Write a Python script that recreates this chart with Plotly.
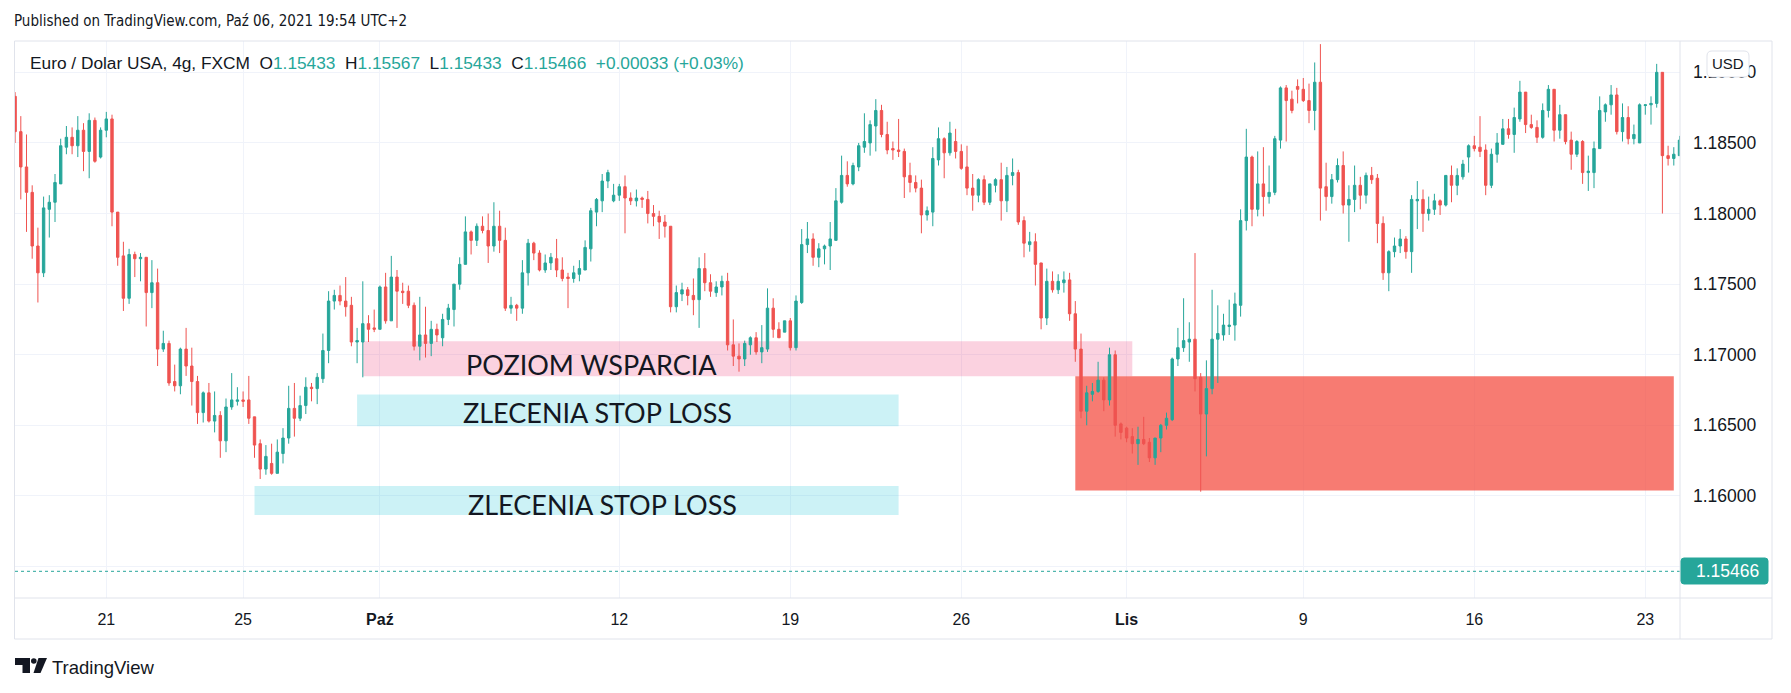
import plotly.graph_objects as go

# ---------------- data (EUR/USD, 4h candles) ----------------
first_bar = -1
opens = [
    1.1883, 1.1858, 1.1833, 1.1815, 1.1777, 1.1758, 1.1803, 1.1808, 1.1821, 1.1847,
    1.1854, 1.1848, 1.1859, 1.1844, 1.1866, 1.1840, 1.1859, 1.1867, 1.1801, 1.1770,
    1.1740, 1.1771, 1.1768, 1.1769, 1.1744, 1.1751, 1.1704, 1.1708, 1.1681, 1.1678,
    1.1704, 1.1692, 1.1681, 1.1659, 1.1673, 1.1653, 1.1657, 1.1639, 1.1663, 1.1667,
    1.1668, 1.1668, 1.1656, 1.1637, 1.1619, 1.1623, 1.1616, 1.1630, 1.1641, 1.1662,
    1.1655, 1.1664, 1.1677, 1.1676, 1.1683, 1.1703, 1.1738, 1.1742, 1.1738, 1.1735,
    1.1709, 1.1709, 1.1722, 1.1719, 1.1718, 1.1748, 1.1724, 1.1755, 1.1745, 1.1745,
    1.1735, 1.1706, 1.1714, 1.1708, 1.1718, 1.1712, 1.1725, 1.1732, 1.1750, 1.1764,
    1.1787, 1.1781, 1.1791, 1.1788, 1.1777, 1.1791, 1.1781, 1.1733, 1.1735, 1.1733,
    1.1758, 1.1779, 1.1772, 1.1760, 1.1765, 1.1768, 1.1760, 1.1755, 1.1754, 1.1757,
    1.1760, 1.1775, 1.1801, 1.1809, 1.1823, 1.1809, 1.1813, 1.1819, 1.1811, 1.1809,
    1.1811, 1.1810, 1.1800, 1.1798, 1.1794, 1.1791, 1.1734, 1.1743, 1.1746, 1.1742,
    1.1739, 1.1761, 1.1751, 1.1744, 1.1748, 1.1752, 1.1707, 1.1699, 1.1697, 1.1707,
    1.1712, 1.1702, 1.1704, 1.1733, 1.1718, 1.1716, 1.1724, 1.1705, 1.1737, 1.1778,
    1.1782, 1.1769, 1.1775, 1.1777, 1.1781, 1.1808, 1.1827, 1.1821, 1.1833, 1.1847,
    1.1850, 1.1862, 1.1873, 1.1856, 1.1846, 1.1845, 1.1844, 1.1827, 1.1822, 1.1818,
    1.1799, 1.1801, 1.1838, 1.1853, 1.1843, 1.1851, 1.1844, 1.1833, 1.1818, 1.1813,
    1.1824, 1.1808, 1.1820, 1.1824, 1.1809, 1.1827, 1.1829, 1.1795, 1.1778, 1.1780,
    1.1765, 1.1726, 1.1752, 1.1746, 1.1751, 1.1753, 1.1729, 1.1704, 1.1660, 1.1672,
    1.1674, 1.1682, 1.1668, 1.1700, 1.1651, 1.1648, 1.1642, 1.1637, 1.1640, 1.1638,
    1.1627, 1.1641, 1.1650, 1.1654, 1.1697, 1.1705, 1.1709, 1.1711, 1.1684, 1.1658,
    1.1676, 1.1711, 1.1714, 1.1720, 1.1721, 1.1735, 1.1795, 1.1840, 1.1803, 1.1821,
    1.1812, 1.1815, 1.1852, 1.1889, 1.1881, 1.1890, 1.1888, 1.1880, 1.1873, 1.1893,
    1.1819, 1.1812, 1.1824, 1.1834, 1.1806, 1.1810, 1.1820, 1.1813, 1.1827, 1.1825,
    1.1793, 1.1758, 1.1773, 1.1777, 1.1782, 1.1773, 1.1809, 1.1810, 1.1800, 1.1803,
    1.1809, 1.1806, 1.1827, 1.1820, 1.1826, 1.1840, 1.1848, 1.1847, 1.1845, 1.1820,
    1.1842, 1.1849, 1.1860, 1.1856, 1.1867, 1.1886, 1.1863, 1.1861, 1.1854, 1.1873,
    1.1888, 1.1859, 1.1870, 1.1852, 1.1842, 1.1851, 1.1829, 1.1829, 1.1846, 1.1872,
    1.1877, 1.1884, 1.1858, 1.1868, 1.1853, 1.1850, 1.18765, 1.1877, 1.1878, 1.1900,
    1.1841, 1.1839, 1.1841,
]
highs = [
    1.1886, 1.1869, 1.1856, 1.1820, 1.1790, 1.1812, 1.1813, 1.1828, 1.1853, 1.1862,
    1.1861, 1.1869, 1.1864, 1.1871, 1.1868, 1.1861, 1.1872, 1.1870, 1.1801, 1.1780,
    1.1775, 1.1773, 1.1772, 1.1769, 1.1767, 1.1761, 1.1717, 1.1710, 1.1693, 1.1705,
    1.1719, 1.1705, 1.1685, 1.1674, 1.1680, 1.1674, 1.1660, 1.1669, 1.1687, 1.1677,
    1.1674, 1.1685, 1.1656, 1.1640, 1.1636, 1.1637, 1.1640, 1.1648, 1.1678, 1.1680,
    1.1671, 1.1684, 1.1680, 1.1687, 1.1715, 1.1745, 1.1746, 1.1749, 1.1755, 1.1741,
    1.1719, 1.1752, 1.1728, 1.1732, 1.1749, 1.1758, 1.1770, 1.1760, 1.1751, 1.1749,
    1.1737, 1.1741, 1.1734, 1.1724, 1.1722, 1.1729, 1.1736, 1.1750, 1.1769, 1.1798,
    1.1788, 1.1793, 1.1798, 1.1800, 1.1808, 1.1802, 1.1790, 1.1741, 1.1736, 1.1767,
    1.1782, 1.1780, 1.1774, 1.1771, 1.1772, 1.1782, 1.1769, 1.1758, 1.1763, 1.1767,
    1.1781, 1.1804, 1.1811, 1.1828, 1.1831, 1.1821, 1.1821, 1.1827, 1.1815, 1.1817,
    1.1812, 1.1816, 1.1806, 1.1802, 1.1799, 1.1791, 1.1749, 1.1751, 1.1748, 1.1754,
    1.1769, 1.1772, 1.1757, 1.1752, 1.1756, 1.1758, 1.1725, 1.1708, 1.1710, 1.1713,
    1.1716, 1.1721, 1.1747, 1.1740, 1.1723, 1.1724, 1.1726, 1.1742, 1.1789, 1.1794,
    1.1786, 1.1779, 1.1778, 1.1794, 1.1818, 1.1841, 1.1837, 1.1836, 1.1850, 1.1871,
    1.1866, 1.1881, 1.1877, 1.1865, 1.1851, 1.1867, 1.1846, 1.1836, 1.1827, 1.1824,
    1.1805, 1.1847, 1.1861, 1.1854, 1.1865, 1.1860, 1.1849, 1.1848, 1.1828, 1.1825,
    1.1827, 1.1821, 1.1825, 1.1836, 1.1833, 1.1839, 1.1831, 1.1798, 1.1787, 1.1786,
    1.1765, 1.1761, 1.1759, 1.1757, 1.1759, 1.1758, 1.1738, 1.1715, 1.1678, 1.1680,
    1.1695, 1.1684, 1.1705, 1.1703, 1.1652, 1.1649, 1.1648, 1.1649, 1.1656, 1.1641,
    1.1641, 1.1651, 1.1659, 1.1698, 1.1719, 1.1740, 1.1723, 1.1772, 1.1687, 1.1696,
    1.1746, 1.1735, 1.1729, 1.1739, 1.1744, 1.1803, 1.1860, 1.1841, 1.1844, 1.1847,
    1.1834, 1.1855, 1.1890, 1.1891, 1.1887, 1.1895, 1.1896, 1.1892, 1.1907, 1.1920,
    1.1836, 1.1828, 1.1839, 1.1844, 1.1820, 1.1834, 1.1826, 1.1829, 1.1833, 1.1828,
    1.1798, 1.1774, 1.1783, 1.1789, 1.1784, 1.1813, 1.1823, 1.1817, 1.1812, 1.1814,
    1.1810, 1.1827, 1.1834, 1.1832, 1.1838, 1.1849, 1.1855, 1.1869, 1.1849, 1.1846,
    1.1857, 1.1867, 1.1867, 1.1875, 1.1894, 1.1886, 1.1870, 1.1866, 1.1878, 1.1891,
    1.1888, 1.1877, 1.1870, 1.1858, 1.1852, 1.1852, 1.1841, 1.1851, 1.1883, 1.1878,
    1.1891, 1.1889, 1.1878, 1.1876, 1.1863, 1.1878, 1.1877, 1.1883, 1.1906, 1.1900,
    1.1848, 1.1847, 1.1855,
]
lows = [
    1.1850, 1.1810, 1.1787, 1.1768, 1.1737, 1.1755, 1.1783, 1.1794, 1.1821, 1.1842,
    1.1842, 1.1840, 1.1830, 1.1825, 1.1836, 1.1839, 1.1854, 1.1791, 1.1763, 1.1731,
    1.1736, 1.1755, 1.1752, 1.1720, 1.1733, 1.1692, 1.1702, 1.1678, 1.1674, 1.1672,
    1.1685, 1.1664, 1.1651, 1.1652, 1.1652, 1.1645, 1.1627, 1.1631, 1.1661, 1.1664,
    1.1663, 1.1651, 1.1627, 1.1612, 1.1615, 1.1615, 1.1616, 1.1623, 1.1637, 1.1642,
    1.1653, 1.1658, 1.1667, 1.1665, 1.1680, 1.1694, 1.1732, 1.1735, 1.1727, 1.1706,
    1.1694, 1.1684, 1.1709, 1.1716, 1.1718, 1.1722, 1.1724, 1.1719, 1.1736, 1.1733,
    1.1703, 1.1696, 1.1698, 1.1699, 1.1709, 1.1706, 1.1721, 1.1720, 1.1746, 1.1764,
    1.1771, 1.1777, 1.1786, 1.1765, 1.1773, 1.1772, 1.1731, 1.1729, 1.1724, 1.1729,
    1.1749, 1.1767, 1.1759, 1.1758, 1.1760, 1.1755, 1.1752, 1.1733, 1.1751, 1.1752,
    1.1760, 1.1766, 1.1791, 1.1801, 1.1818, 1.1808, 1.1809, 1.1786, 1.1806, 1.1805,
    1.1804, 1.1793, 1.1791, 1.1782, 1.1783, 1.1730, 1.1730, 1.1738, 1.1735, 1.1728,
    1.1719, 1.1745, 1.1741, 1.1741, 1.1742, 1.1703, 1.1692, 1.1688, 1.1692, 1.1700,
    1.1700, 1.1694, 1.1702, 1.1712, 1.1712, 1.1716, 1.1703, 1.1703, 1.1736, 1.1772,
    1.1763, 1.1762, 1.1764, 1.1760, 1.1781, 1.1807, 1.1819, 1.1820, 1.1830, 1.1843,
    1.1841, 1.1844, 1.1854, 1.1842, 1.1838, 1.1840, 1.1811, 1.1815, 1.1815, 1.1786,
    1.1795, 1.1791, 1.1834, 1.1825, 1.1841, 1.1839, 1.1831, 1.1813, 1.1802, 1.1808,
    1.1806, 1.1806, 1.1815, 1.1795, 1.1801, 1.1820, 1.1792, 1.1769, 1.1773, 1.1749,
    1.1718, 1.1721, 1.1744, 1.1743, 1.1744, 1.1724, 1.1695, 1.1655, 1.1650, 1.1667,
    1.1673, 1.1660, 1.1664, 1.1642, 1.1640, 1.1638, 1.1630, 1.1622, 1.1636, 1.1624,
    1.1622, 1.1631, 1.1647, 1.1653, 1.1692, 1.1702, 1.1695, 1.1674, 1.1603, 1.1628,
    1.1672, 1.1680, 1.1710, 1.1714, 1.1710, 1.1727, 1.1788, 1.1791, 1.1798, 1.1798,
    1.1807, 1.1813, 1.1846, 1.1851, 1.1871, 1.1878, 1.1879, 1.1864, 1.1859, 1.1795,
    1.1802, 1.1807, 1.1822, 1.1800, 1.1780, 1.1801, 1.1803, 1.1807, 1.1821, 1.1779,
    1.1753, 1.1745, 1.1769, 1.1772, 1.1768, 1.1758, 1.1789, 1.1787, 1.1795, 1.1799,
    1.1799, 1.1805, 1.1808, 1.1813, 1.1824, 1.1829, 1.1844, 1.1840, 1.1813, 1.1818,
    1.1836, 1.1849, 1.1853, 1.1843, 1.1865, 1.1857, 1.1860, 1.1850, 1.1853, 1.1868,
    1.1851, 1.1853, 1.1849, 1.1831, 1.1840, 1.1821, 1.1816, 1.1818, 1.1846, 1.1865,
    1.1870, 1.1856, 1.1851, 1.1849, 1.1849, 1.1850, 1.1870, 1.1863, 1.1875, 1.1800,
    1.1834, 1.1834, 1.1841,
]
closes = [
    1.1858, 1.1833, 1.1815, 1.1777, 1.1758, 1.1804, 1.1808, 1.1822, 1.1848, 1.1854,
    1.1848, 1.1859, 1.1844, 1.1866, 1.1837, 1.1859, 1.1867, 1.1801, 1.1769, 1.1740,
    1.1771, 1.1768, 1.1769, 1.1744, 1.1751, 1.1704, 1.1708, 1.1680, 1.1678, 1.1704,
    1.1692, 1.1681, 1.1659, 1.1673, 1.1653, 1.1657, 1.1639, 1.1663, 1.1668, 1.1668,
    1.1667, 1.1655, 1.1636, 1.1619, 1.1628, 1.1616, 1.1631, 1.1641, 1.1662, 1.1655,
    1.1664, 1.1677, 1.1676, 1.1684, 1.1703, 1.1738, 1.1742, 1.1738, 1.1734, 1.1709,
    1.1710, 1.1722, 1.1718, 1.1718, 1.1748, 1.1724, 1.1755, 1.1745, 1.1744, 1.1735,
    1.1706, 1.1714, 1.1708, 1.1718, 1.1714, 1.1725, 1.1733, 1.1750, 1.1764, 1.1787,
    1.1781, 1.1791, 1.1788, 1.1777, 1.1791, 1.1781, 1.1733, 1.1735, 1.1733, 1.1758,
    1.1779, 1.1772, 1.1760, 1.1765, 1.1769, 1.1760, 1.1754, 1.1754, 1.1758, 1.1761,
    1.1776, 1.1802, 1.1810, 1.1823, 1.1829, 1.1813, 1.1819, 1.1811, 1.1809, 1.1811,
    1.1810, 1.1800, 1.1798, 1.1794, 1.1791, 1.1734, 1.1744, 1.1746, 1.1742, 1.1739,
    1.1761, 1.1751, 1.1745, 1.1748, 1.1752, 1.1707, 1.1699, 1.1697, 1.1708, 1.1712,
    1.1702, 1.1705, 1.1733, 1.1718, 1.1712, 1.1724, 1.1705, 1.1738, 1.1778, 1.1782,
    1.1769, 1.1775, 1.1777, 1.1782, 1.1809, 1.1827, 1.1821, 1.1834, 1.1848, 1.1851,
    1.1863, 1.1873, 1.1856, 1.1845, 1.1845, 1.1844, 1.1826, 1.1822, 1.1818, 1.1799,
    1.1802, 1.1839, 1.1853, 1.1843, 1.1857, 1.1844, 1.1832, 1.1818, 1.1813, 1.1824,
    1.1808, 1.1821, 1.1824, 1.1809, 1.1827, 1.1829, 1.1794, 1.1779, 1.1780, 1.1764,
    1.1726, 1.1752, 1.1746, 1.1752, 1.1753, 1.1729, 1.1704, 1.1660, 1.1673, 1.1674,
    1.1682, 1.1668, 1.1700, 1.1650, 1.1645, 1.1641, 1.1637, 1.1640, 1.1637, 1.1627,
    1.1641, 1.1650, 1.1655, 1.1697, 1.1705, 1.1710, 1.1711, 1.1683, 1.1658, 1.1676,
    1.1711, 1.1715, 1.1721, 1.1721, 1.1736, 1.1795, 1.1840, 1.1803, 1.1821, 1.1812,
    1.1815, 1.1853, 1.1889, 1.1880, 1.1873, 1.1888, 1.1880, 1.1873, 1.1893, 1.1818,
    1.1812, 1.1824, 1.1834, 1.1806, 1.1810, 1.1820, 1.1813, 1.1827, 1.1824, 1.1793,
    1.1758, 1.1773, 1.1777, 1.1782, 1.1773, 1.1810, 1.1810, 1.1800, 1.1803, 1.1809,
    1.1806, 1.1827, 1.1820, 1.1827, 1.1835, 1.1848, 1.1846, 1.1844, 1.1820, 1.1842,
    1.1850, 1.1860, 1.1856, 1.1868, 1.1886, 1.1863, 1.1861, 1.1854, 1.1873, 1.1888,
    1.1859, 1.1870, 1.1851, 1.1842, 1.1851, 1.1829, 1.1830, 1.1846, 1.1873, 1.1877,
    1.1884, 1.1858, 1.1868, 1.1853, 1.1856, 1.1877, 1.1877, 1.1878, 1.1900, 1.1841,
    1.1839, 1.1842, 1.1852,
]
bars = list(range(first_bar, first_bar + len(opens)))

tick_bars = [15, 39, 63, 105, 135, 165, 194, 225, 255, 285]
tick_labels = ["21", "25", "<b>Paź</b>", "12", "19", "26", "<b>Lis</b>", "9", "16", "23"]
price_levels = [1.155, 1.160, 1.165, 1.170, 1.175, 1.180, 1.185, 1.190]
last_price = 1.15466

zone_texts = ["POZIOM WSPARCIA", "ZLECENIA STOP LOSS", "ZLECENIA STOP LOSS", ""]
zone_from = [60, 59, 41, 185]
zone_to = [195, 154, 154, 290]
zone_bottom = [1.16848, 1.16494, 1.15865, 1.16038]
zone_top = [1.17096, 1.16719, 1.16071, 1.16848]

# ---------------- styling / layout ----------------
W, H = 1791, 693
L, R, T, B = 15, 1680, 41, 598          # plot area in pixels
PW, PH = R - L, B - T
X0_PX, PITCH = 20.8, 5.7                 # pixel of bar 0, pixels per bar
Y_RANGE = [1.15277, 1.19222]

UP, DOWN = "#26a69a", "#ef5350"
TXT = "#131722"
GRID = "#f0f3fa"
BORDER = "#e0e3eb"
ZONE_FILLS = ["rgba(233,30,99,0.2)", "rgba(0,188,212,0.2)", "rgba(0,188,212,0.2)", "rgba(244,67,54,0.7)"]
ZONE_TEXT_POS = [(100.2, 1.16931), (101.1, 1.16591), (102.0, 1.15940), None]
UI_FONT = "Liberation Sans, Arial, sans-serif"


def px(x):
    return (x - L) / PW


def py(y):
    return (B - y) / PH


fig = go.Figure()
fig.add_trace(go.Candlestick(
    x=bars, open=opens, high=highs, low=lows, close=closes,
    increasing=dict(line=dict(color=UP, width=1), fillcolor=UP),
    decreasing=dict(line=dict(color=DOWN, width=1), fillcolor=DOWN),
    whiskerwidth=0, showlegend=False, hoverinfo="skip",
))

shapes = []
annotations = []

# drawn zones
for i in range(len(zone_texts)):
    shapes.append(dict(type="rect", xref="x", yref="y", x0=zone_from[i], x1=zone_to[i],
                       y0=zone_bottom[i], y1=zone_top[i], fillcolor=ZONE_FILLS[i],
                       line=dict(width=0), layer="between"))
    if zone_texts[i] and ZONE_TEXT_POS[i]:
        annotations.append(dict(x=ZONE_TEXT_POS[i][0], y=ZONE_TEXT_POS[i][1], xref="x", yref="y",
                                text=zone_texts[i], showarrow=False, xanchor="center", yanchor="middle",
                                font=dict(family="Lato, Liberation Sans, sans-serif", size=27, color=TXT)))

# last price dotted line
shapes.append(dict(type="line", xref="paper", yref="y", x0=0, x1=1, y0=last_price, y1=last_price,
                   line=dict(color=UP, width=1, dash="dot"), layer="above"))

# frame lines
FR = 1772
for (xa, ya, xb, yb) in [(14.5, 41, FR, 41), (14.5, 41, 14.5, 639), (FR, 41, FR, 639),
                         (14.5, 639, FR, 639), (1680, 41, 1680, 639), (14.5, 598, FR, 598)]:
    shapes.append(dict(type="line", xref="paper", yref="paper", x0=px(xa), y0=py(ya), x1=px(xb), y1=py(yb),
                       line=dict(color=BORDER, width=1), layer="above"))


def rrect(x0, y0, x1, y1, r):
    pts = [("M", x0 + r, y0), ("L", x1 - r, y0), ("Q", x1, y0, x1, y0 + r), ("L", x1, y1 - r),
           ("Q", x1, y1, x1 - r, y1), ("L", x0 + r, y1), ("Q", x0, y1, x0, y1 - r),
           ("L", x0, y0 + r), ("Q", x0, y0, x0 + r, y0)]
    s = ""
    for p in pts:
        cmd = p[0]
        coords = p[1:]
        parts = []
        for k in range(0, len(coords), 2):
            parts.append(f"{px(coords[k]):.6f},{py(coords[k + 1]):.6f}")
        s += cmd + " ".join(parts) + " "
    return s + "Z"


# USD box
shapes.append(dict(type="path", xref="paper", yref="paper", path=rrect(1707, 51, 1749, 77, 5),
                   fillcolor="white", line=dict(color=BORDER, width=1), layer="above"))
annotations.append(dict(x=px(1728), y=py(63.5), xref="paper", yref="paper", text="USD", showarrow=False,
                        xanchor="center", yanchor="middle", font=dict(family=UI_FONT, size=15, color=TXT)))

# last price label
shapes.append(dict(type="path", xref="paper", yref="paper", path=rrect(1681, 558, 1768, 584, 3),
                   fillcolor=UP, line=dict(color=UP, width=1), layer="above"))
annotations.append(dict(x=px(1694), y=last_price, xref="paper", yref="y", text=f"{last_price:.5f}",
                        showarrow=False, xanchor="left", yanchor="middle",
                        font=dict(family=UI_FONT, size=17.5, color="white")))

# header & legend
annotations.append(dict(x=px(12), y=py(21), xref="paper", yref="paper",
                        text="Published on TradingView.com, Paź 06, 2021 19:54 UTC+2", showarrow=False,
                        xanchor="left", yanchor="middle",
                        font=dict(family="Liberation Sans Narrow, DejaVu Sans Condensed, Liberation Sans", size=15, color=TXT)))
sp = "\u00a0\u00a0"
val = lambda v: f"<span style='color:{UP}'>{v}</span>"
legend_text = ("Euro / Dolar USA, 4g, FXCM" + sp + "O" + val("1.15433") + sp + "H" + val("1.15567") + sp +
               "L" + val("1.15433") + sp + "C" + val("1.15466") + sp + val("+0.00033 (+0.03%)"))
annotations.append(dict(x=px(28), y=py(63), xref="paper", yref="paper", text=legend_text, showarrow=False,
                        xanchor="left", yanchor="middle", font=dict(family=UI_FONT, size=17.3, color=TXT)))

# footer logo + name
shapes.append(dict(type="path", xref="paper", yref="paper", fillcolor=TXT, line=dict(width=0), layer="above",
                   path=f"M{px(15)},{py(658)} L{px(30)},{py(658)} L{px(30)},{py(673)} L{px(22.5)},{py(673)} "
                        f"L{px(22.5)},{py(665)} L{px(15)},{py(665)} Z"))
shapes.append(dict(type="circle", xref="paper", yref="paper", fillcolor=TXT, line=dict(width=0), layer="above",
                   x0=px(31), x1=px(36.6), y0=py(663.8), y1=py(658.2)))
shapes.append(dict(type="path", xref="paper", yref="paper", fillcolor=TXT, line=dict(width=0), layer="above",
                   path=f"M{px(38.5)},{py(658)} L{px(47)},{py(658)} L{px(40.5)},{py(673)} L{px(33.5)},{py(673)} Z"))
annotations.append(dict(x=px(50), y=py(667), xref="paper", yref="paper", text="TradingView", showarrow=False,
                        xanchor="left", yanchor="middle", font=dict(family=UI_FONT, size=18.5, color=TXT)))

price_text = ["" if abs(p - 1.155) < 1e-9 else f"{p:.5f}" for p in price_levels]

fig.update_layout(
    width=W, height=H,
    margin=dict(l=L, r=W - R, t=T, b=H - B, autoexpand=False),
    paper_bgcolor="white", plot_bgcolor="white", showlegend=False,
    boxgap=0.4,
    xaxis=dict(range=[(L - X0_PX) / PITCH, (R - X0_PX) / PITCH], tickmode="array",
               tickvals=tick_bars, ticktext=tick_labels, showgrid=True, gridcolor=GRID, gridwidth=1,
               zeroline=False, showline=False, ticks="", rangeslider=dict(visible=False),
               tickfont=dict(family=UI_FONT, size=16, color=TXT), ticklabelstandoff=10, fixedrange=True),
    yaxis=dict(side="right", range=Y_RANGE, tickmode="array", tickvals=price_levels, ticktext=price_text,
               showgrid=True, gridcolor=GRID, gridwidth=1, zeroline=False, showline=False, ticks="",
               tickfont=dict(family=UI_FONT, size=17.5, color=TXT), ticklabelstandoff=12, fixedrange=True),
    shapes=shapes, annotations=annotations,
)

fig.write_html("out.html", config=dict(displayModeBar=False),
               post_script="document.body.style.margin='0';document.body.style.overflow='hidden';")
